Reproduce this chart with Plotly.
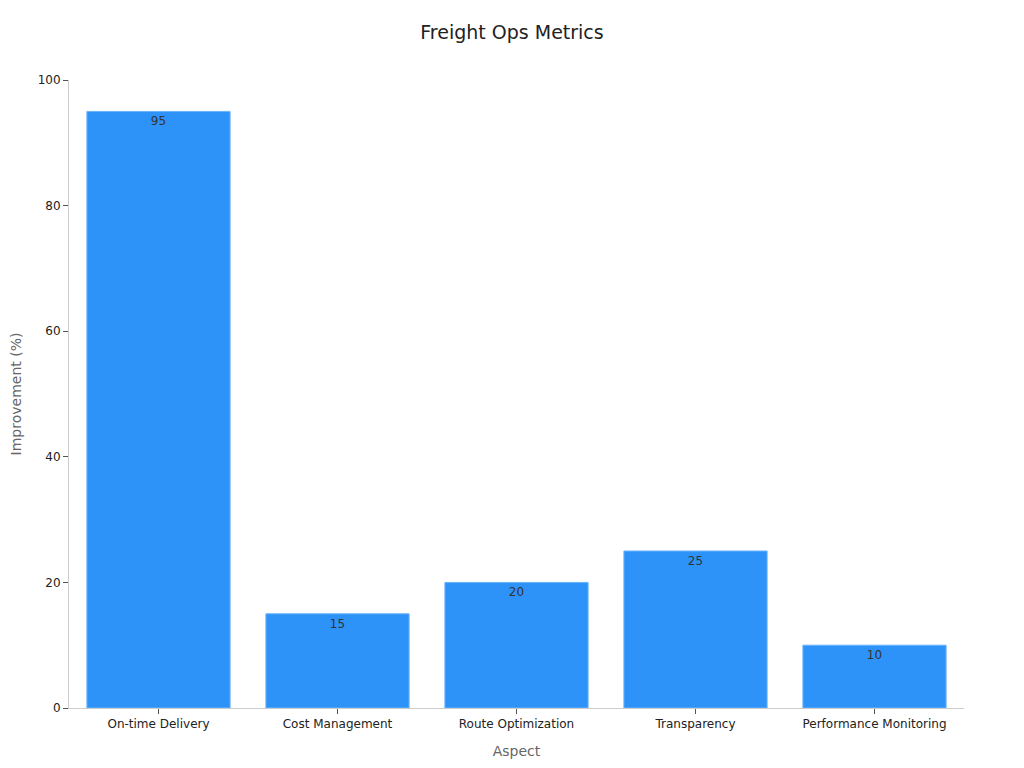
import plotly.graph_objects as go

categories = ["On-time Delivery", "Cost Management", "Route Optimization", "Transparency", "Performance Monitoring"]
values = [95, 15, 20, 25, 10]
y_ticks = [0, 20, 40, 60, 80, 100]

fig = go.Figure(go.Bar(
    x=categories,
    y=values,
    text=[str(v) for v in values],
    textposition="inside",
    insidetextanchor="end",
    textfont=dict(family="DejaVu Sans", size=12, color="#333333"),
    marker=dict(color="#2e93f9", line=dict(color="#6bb3fa", width=1)),
    hoverinfo="x+y",
))

fig.update_layout(
    autosize=True,
    paper_bgcolor="white", plot_bgcolor="white",
    font=dict(family="DejaVu Sans", color="#333333"),
    title=dict(text="Freight Ops Metrics", x=0.5, xanchor="center", y=0.967, yanchor="middle",
               font=dict(size=19, color="#222222")),
    margin=dict(l=61, r=52, t=72, b=52),
    bargap=0.2,
    showlegend=False,
    xaxis=dict(
        title=dict(text="Aspect", font=dict(size=14, color="#666666")),
        automargin=False,
        showline=True, linecolor="#cccccc", linewidth=1,
        ticks="outside", tickcolor="#555555", ticklen=5,
        tickfont=dict(size=12, color="#222222"),
        showgrid=False,
    ),
    yaxis=dict(
        title=dict(text="Improvement (%)", font=dict(size=14, color="#666666")),
        automargin=False,
        range=[0, 100], tickvals=y_ticks,
        showline=True, linecolor="#cccccc", linewidth=1,
        ticks="outside", tickcolor="#555555", ticklen=5,
        tickfont=dict(size=12, color="#222222"),
        showgrid=False, zeroline=False,
    ),
)

fig.write_html("out.html")
